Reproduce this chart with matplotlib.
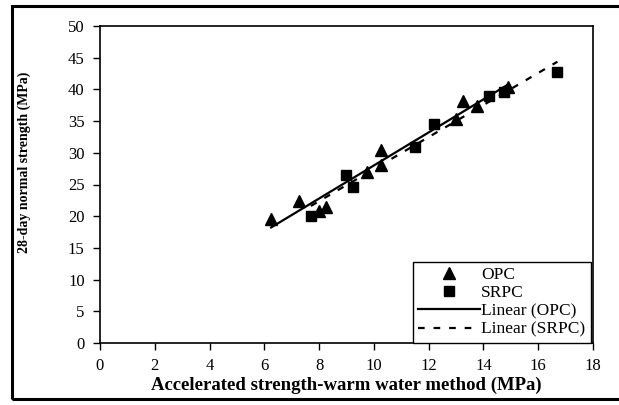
import numpy as np
import matplotlib
matplotlib.use("Agg")
import matplotlib.pyplot as plt
from matplotlib.patches import Rectangle

# Accelerated (warm water) strength vs 28-day normal strength, MPa
opc_x = [6.25, 7.25, 8.0, 8.25, 9.75, 10.25, 10.25, 13.0, 13.25, 13.75, 14.9]
opc_y = [19.5, 22.4, 20.8, 21.4, 26.9, 28.0, 30.4, 35.4, 38.2, 37.4, 40.4]

srpc_x = [7.7, 9.0, 9.25, 11.5, 12.2, 14.2, 14.75, 16.7]
srpc_y = [20.1, 26.5, 24.6, 30.9, 34.6, 39.0, 39.6, 42.8]

x_ticks = list(range(0, 19, 2))
y_ticks = list(range(0, 51, 5))

plt.rcParams['font.family'] = ['Liberation Serif', 'DejaVu Serif']

fig = plt.figure(figsize=(6.19, 4.05), dpi=100)
ax = fig.add_axes([100 / 619, 1 - 343 / 405, 493 / 619, 317 / 405])

# scatter points
ax.plot(opc_x, opc_y, linestyle='none', marker='^', markersize=8,
        color='black', label='OPC')
ax.plot(srpc_x, srpc_y, linestyle='none', marker='s', markersize=6.5,
        color='black', label='SRPC')

# least-squares trend lines over each series' range
for xs, ys, style, lab in [(opc_x, opc_y, '-', 'Linear (OPC)'),
                           (srpc_x, srpc_y, '--', 'Linear (SRPC)')]:
    k, b = np.polyfit(xs, ys, 1)
    xx = np.array([min(xs), max(xs)])
    line, = ax.plot(xx, k * xx + b, linestyle=style, color='black',
                    linewidth=1.6, label=lab)
    if style == '--':
        line.set_dashes((3, 4))

ax.set_xlim(0, 18)
ax.set_ylim(0, 50)
ax.set_xticks(x_ticks)
ax.set_yticks(y_ticks)
ax.tick_params(direction='out', length=5, width=1, labelsize=12,
               colors='black', pad=6)
for s in ax.spines.values():
    s.set_linewidth(1.2)
    s.set_color('black')

ax.set_xlabel('Accelerated strength-warm water method (MPa)',
              fontsize=13.5, fontweight='bold')
ax.xaxis.set_label_coords(0.50, -0.105)
ax.set_ylabel('28-day normal strength (MPa)', fontsize=10,
              fontweight='bold')
ax.yaxis.set_label_coords(-0.14, 0.57)

leg = ax.legend(loc='lower right', bbox_to_anchor=(0.995, 0.0),
                fontsize=12.5, frameon=True, fancybox=False,
                edgecolor='black', framealpha=1, handlelength=3.6,
                handletextpad=0.05, labelspacing=0.12, borderpad=0.3,
                borderaxespad=0.0)
leg.get_frame().set_linewidth(1.0)

# outer chart border
fig.patches.append(Rectangle((12 / 619, 1 - 399 / 405), 1.0, (399 - 6) / 405,
                             transform=fig.transFigure, fill=False,
                             edgecolor='black', linewidth=2.2))

fig.savefig('out.png', dpi=100)
